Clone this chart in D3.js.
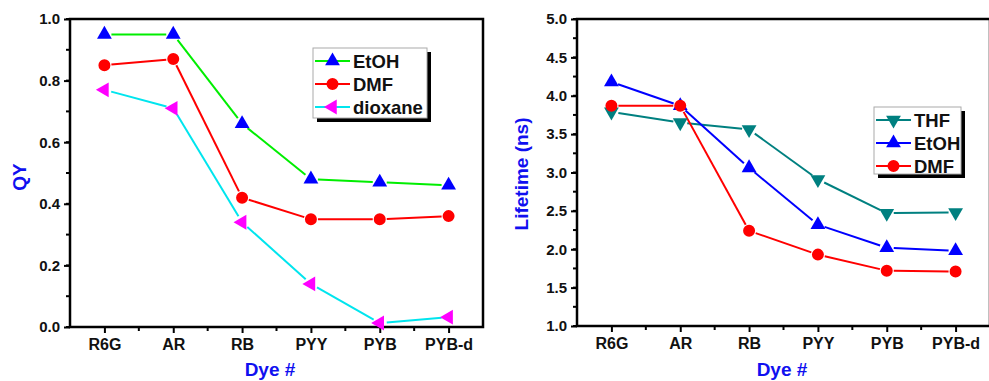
<!DOCTYPE html>
<html>
<head>
<meta charset="utf-8">
<script src="https://cdn.jsdelivr.net/npm/d3@7"></script>
<style>
  body { margin: 0; background: #fff; }
  text { font-family: "Liberation Sans", Arial, sans-serif; font-weight: bold; }
</style>
</head>
<body>
<div id="graph"></div>
<script>
var w = 989;
var h = 381;

// data
var dyes = ["R6G", "AR", "RB", "PYY", "PYB", "PYB-d"];

var qyEtOH = [0.95, 0.95, 0.66, 0.48, 0.47, 0.46];
var qyDMF = [0.85, 0.87, 0.42, 0.35, 0.35, 0.36];
var qyDioxane = [0.77, 0.71, 0.34, 0.14, 0.013, 0.032];

var ltTHF = [3.79, 3.65, 3.56, 2.91, 2.47, 2.48];
var ltEtOH = [4.18, 3.87, 3.06, 2.32, 2.02, 1.98];
var ltDMF = [3.87, 3.87, 2.24, 1.93, 1.72, 1.71];

var qyTicks = [0.0, 0.2, 0.4, 0.6, 0.8, 1.0];
var ltTicks = [1.0, 1.5, 2.0, 2.5, 3.0, 3.5, 4.0, 4.5, 5.0];

var svg = d3.select("#graph")
    .append("svg")
    .attr("width", w)
    .attr("height", h);

// marker shapes
function markerPath(shape) {
    if (shape == "circle") return d3.symbol(d3.symbolCircle, 113)();
    return d3.symbol(d3.symbolTriangle, 95)();
}
function markerRotate(shape) {
    if (shape == "down") return 180;
    if (shape == "left") return -90;
    return 0;
}

function drawChart(opt) {
    var g = svg.append("g");

    var xScale = d3.scalePoint()
        .domain(dyes)
        .range([opt.left, opt.right])
        .padding(0.5);

    var yScale = d3.scaleLinear()
        .domain(opt.yDomain)
        .range([opt.bottom, opt.top]);

    var step = xScale.step();

    // minor x ticks (between categories)
    var minorX = d3.range(dyes.length + 1).map(function (i) { return opt.left + i * step; });
    g.selectAll(".mx")
        .data(minorX.slice(1, -1))
        .enter()
        .append("line")
        .attr("x1", function (d) { return d; })
        .attr("x2", function (d) { return d; })
        .attr("y1", opt.bottom)
        .attr("y2", opt.bottom + 4)
        .attr("stroke", "black")
        .attr("stroke-width", 2);

    // minor y ticks
    var minorY = d3.range(opt.yDomain[0], opt.yDomain[1] + 1e-9, opt.minorStep);
    g.selectAll(".my")
        .data(minorY)
        .enter()
        .append("line")
        .attr("x1", opt.left - 4)
        .attr("x2", opt.left)
        .attr("y1", function (d) { return yScale(d); })
        .attr("y2", function (d) { return yScale(d); })
        .attr("stroke", "black")
        .attr("stroke-width", 2);

    // x axis
    var xAxis = d3.axisBottom(xScale).tickSize(6).tickPadding(6).tickSizeOuter(0);
    var gx = g.append("g")
        .attr("transform", "translate(0," + opt.bottom + ")")
        .call(xAxis);
    gx.select(".domain").remove();
    gx.selectAll(".tick line").attr("stroke-width", 2);
    gx.selectAll("text")
        .attr("font-size", "16px")
        .attr("fill", "#111");

    // y axis
    var yAxis = d3.axisLeft(yScale)
        .tickValues(opt.ticks)
        .tickFormat(d3.format(".1f"))
        .tickSize(6)
        .tickPadding(4)
        .tickSizeOuter(0);
    var gy = g.append("g")
        .attr("transform", "translate(" + opt.left + ",0)")
        .call(yAxis);
    gy.select(".domain").remove();
    gy.selectAll(".tick line").attr("stroke-width", 2);
    gy.selectAll("text")
        .attr("font-size", "15px")
        .attr("fill", "#111");

    // frame
    g.append("rect")
        .attr("x", opt.left)
        .attr("y", opt.top)
        .attr("width", opt.right - opt.left)
        .attr("height", opt.bottom - opt.top)
        .attr("fill", "none")
        .attr("stroke", "black")
        .attr("stroke-width", 2.5);

    // axis titles
    g.append("text")
        .attr("x", opt.xLabelX)
        .attr("y", opt.xLabelY)
        .attr("text-anchor", "middle")
        .attr("font-size", "19px")
        .attr("fill", "#1010f0")
        .text("Dye #");

    g.append("text")
        .attr("transform", "translate(" + opt.yLabelX + "," + opt.yLabelY + ") rotate(-90)")
        .attr("text-anchor", "middle")
        .attr("font-size", "19px")
        .attr("fill", "#1010f0")
        .text(opt.yLabel);

    // series lines with a small gap at each marker
    var gap = 7;
    opt.series.forEach(function (s) {
        var pts = s.values.map(function (v, i) { return [xScale(dyes[i]), yScale(v)]; });
        var segs = d3.pairs(pts);
        g.selectAll(null)
            .data(segs)
            .enter()
            .append("line")
            .each(function (d) {
                var dx = d[1][0] - d[0][0], dy = d[1][1] - d[0][1];
                var len = Math.sqrt(dx * dx + dy * dy);
                var ux = dx / len, uy = dy / len;
                d3.select(this)
                    .attr("x1", d[0][0] + ux * gap)
                    .attr("y1", d[0][1] + uy * gap)
                    .attr("x2", d[1][0] - ux * gap)
                    .attr("y2", d[1][1] - uy * gap);
            })
            .attr("stroke", s.line)
            .attr("stroke-width", 2);
    });

    opt.series.forEach(function (s) {
        g.selectAll(null)
            .data(s.values)
            .enter()
            .append("path")
            .attr("d", markerPath(s.shape))
            .attr("transform", function (d, i) {
                return "translate(" + xScale(dyes[i]) + "," + yScale(d) + ") rotate(" + markerRotate(s.shape) + ")";
            })
            .attr("fill", s.marker);
    });

    // legend
    var lg = g.append("g").attr("transform", "translate(" + opt.legX + "," + opt.legY + ")");
    lg.append("rect")
        .attr("x", 4).attr("y", 4)
        .attr("width", opt.legW).attr("height", opt.legH)
        .attr("fill", "black");
    lg.append("rect")
        .attr("x", 0).attr("y", 0)
        .attr("width", opt.legW).attr("height", opt.legH)
        .attr("fill", "white")
        .attr("stroke", "#aaa")
        .attr("stroke-width", 1);

    var rows = lg.selectAll(".row")
        .data(opt.series)
        .enter()
        .append("g")
        .attr("transform", function (d, i) { return "translate(0," + (13 + i * 23) + ")"; });
    rows.append("line")
        .attr("x1", 2).attr("x2", 37)
        .attr("y1", 0).attr("y2", 0)
        .attr("stroke", function (d) { return d.line; })
        .attr("stroke-width", 2);
    rows.append("path")
        .attr("d", function (d) { return markerPath(d.shape); })
        .attr("transform", function (d) { return "translate(19.5,0) rotate(" + markerRotate(d.shape) + ")"; })
        .attr("fill", function (d) { return d.marker; });
    rows.append("text")
        .attr("x", 40)
        .attr("y", 6.5)
        .attr("font-size", "18.5px")
        .attr("fill", "#111")
        .text(function (d) { return d.name; });
}

drawChart({
    left: 70, right: 483, top: 19, bottom: 327,
    yDomain: [0, 1], ticks: qyTicks, minorStep: 0.1,
    yLabel: "QY", yLabelX: 26, yLabelY: 177,
    xLabelX: 270, xLabelY: 376,
    legX: 313, legY: 48, legW: 114, legH: 70,
    series: [
        { name: "EtOH", values: qyEtOH, line: "#00ee00", marker: "#0000ff", shape: "up" },
        { name: "DMF", values: qyDMF, line: "#ff0000", marker: "#ff0000", shape: "circle" },
        { name: "dioxane", values: qyDioxane, line: "#00e5ee", marker: "#ff00ff", shape: "left" }
    ]
});

drawChart({
    left: 577, right: 990, top: 19, bottom: 326,
    yDomain: [1, 5], ticks: ltTicks, minorStep: 0.25,
    yLabel: "Lifetime (ns)", yLabelX: 528, yLabelY: 174,
    xLabelX: 782, xLabelY: 376,
    legX: 874, legY: 107, legW: 87, legH: 67,
    series: [
        { name: "THF", values: ltTHF, line: "#008080", marker: "#008080", shape: "down" },
        { name: "EtOH", values: ltEtOH, line: "#0000ff", marker: "#0000ff", shape: "up" },
        { name: "DMF", values: ltDMF, line: "#ff0000", marker: "#ff0000", shape: "circle" }
    ]
});
</script>
</body>
</html>
